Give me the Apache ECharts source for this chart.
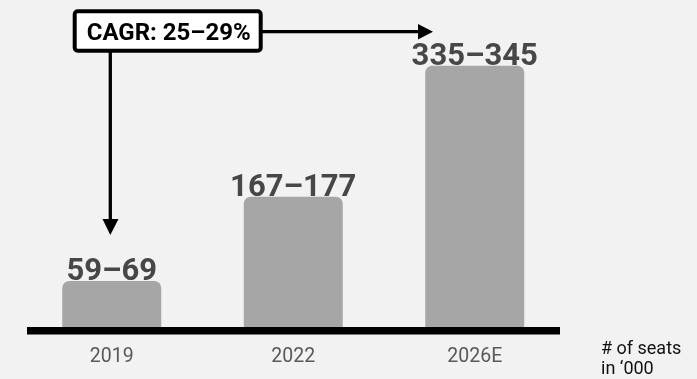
<!DOCTYPE html>
<html>
<head>
<meta charset="utf-8">
<script src="https://cdn.jsdelivr.net/npm/echarts@6/dist/echarts.min.js"></script>
<style>
  html, body { margin: 0; padding: 0; background: #f2f2f2; }
  #chart { width: 697px; height: 379px; }
</style>
</head>
<body>
<div id="chart"></div>
<script>
// seats in '000, low and high end of each range
const years = ['2019', '2022', '2026E'];
const seatsLow = [59, 167, 335];
const seatsHigh = [69, 177, 345];
const cagrText = 'CAGR: 25–29%';

let myChart = echarts.init(document.getElementById('chart'));

const font = 'Roboto, "Noto Sans", sans-serif';

myChart.setOption({
    backgroundColor: '#f2f2f2',
    animation: false,
    grid: {
        left: 21,
        right: 131.5,
        top: 15,
        bottom: 52
    },
    xAxis: {
        type: 'category',
        data: years,
        axisLine: { show: false },
        axisTick: { show: false },
        axisLabel: {
            color: '#595959',
            fontSize: 19.5,
            fontFamily: font,
            margin: 20
        }
    },
    yAxis: {
        type: 'value',
        min: 0,
        max: 400,
        show: false
    },
    series: [{
        type: 'bar',
        barWidth: 99,
        data: seatsLow,
        itemStyle: {
            color: '#a6a6a6',
            borderRadius: [7, 7, 0, 0]
        },
        label: {
            show: true,
            position: 'top',
            distance: -7,
            color: '#474747',
            fontSize: 31,
            fontWeight: 'bold',
            fontFamily: font,
            formatter: p => seatsLow[p.dataIndex] + '–' + seatsHigh[p.dataIndex]
        }
    }],
    graphic: [
        // baseline
        {
            type: 'rect',
            shape: { x: 27, y: 327, width: 533, height: 7.5 },
            style: { fill: '#000' }
        },
        // vertical arrow to 2019
        {
            type: 'line',
            shape: { x1: 110.3, y1: 52, x2: 110.3, y2: 222 },
            style: { stroke: '#000', lineWidth: 3.3 }
        },
        {
            type: 'polygon',
            shape: { points: [[102.5, 219], [118.5, 219], [110.3, 235]] },
            style: { fill: '#000' }
        },
        // horizontal arrow to 2026E
        {
            type: 'line',
            shape: { x1: 262, y1: 31.7, x2: 421, y2: 31.7 },
            style: { stroke: '#000', lineWidth: 3.3 }
        },
        {
            type: 'polygon',
            shape: { points: [[418, 24], [418, 39.4], [433, 31.7]] },
            style: { fill: '#000' }
        },
        // CAGR box
        {
            type: 'rect',
            shape: { x: 74.7, y: 11.3, width: 186, height: 39.4, r: 3 },
            style: { fill: '#fff', stroke: '#000', lineWidth: 4 }
        },
        {
            type: 'text',
            x: 168.7,
            y: 34,
            style: {
                text: cagrText,
                fill: '#000',
                font: 'bold 24px ' + font,
                align: 'center',
                verticalAlign: 'middle'
            }
        },
        // unit note
        {
            type: 'text',
            x: 601,
            y: 339,
            style: {
                text: "# of seats\nin ‘000",
                fill: '#111',
                font: '18px ' + font,
                lineHeight: 20
            }
        }
    ]
});
</script>
</body>
</html>
